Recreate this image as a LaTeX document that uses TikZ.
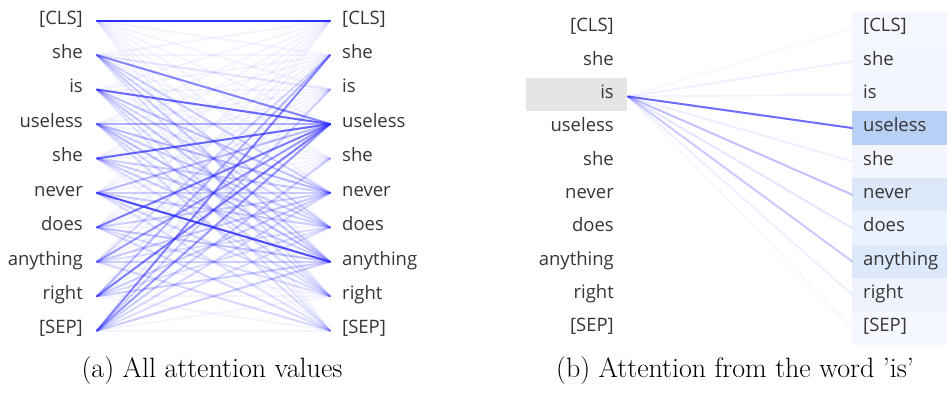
\documentclass[tikz,border=0pt]{standalone}
\usepackage{fontspec}
\newfontfamily\tokfont{Open Sans}
\definecolor{tok}{HTML}{363636}
\definecolor{attn}{RGB}{45,45,255}
\definecolor{isbox}{HTML}{E5E5E5}
\begin{document}
\begin{tikzpicture}[x=1pt,y=-1pt,
  tokL/.style={anchor=base east, inner sep=0pt, font=\tokfont\fontsize{18.5}{20}\selectfont, text=tok},
  tokR/.style={anchor=base west, inner sep=0pt, font=\tokfont\fontsize{18.5}{20}\selectfont, text=tok},
  att/.style={draw=attn, line width=2pt, line cap=round},
  capnode/.style={anchor=base, inner sep=0pt, font=\fontsize{28}{32}\selectfont}]
\useasboundingbox (0,0) rectangle (947,392);

% ---------------- panel (a) ----------------
\foreach \t [count=\i from 0] in {{[CLS]},she,is,useless,she,never,does,anything,right,{[SEP]}}{
  \pgfmathsetmacro\yb{24+34.44*\i}
  \pgfmathsetmacro\yl{20.7+34.44*\i}
  \node[tokL] (la\i) at (83,\yb) {\t};
  \node[tokR] (ra\i) at (342,\yb) {\t};
  \coordinate (as\i) at (97,\yl);
  \coordinate (at\i) at (330,\yl);
}
% faint background of all pairs
\foreach \i in {0,...,9}{
  \foreach \j in {0,...,9}{
    \draw[att, opacity=0.05] (as\i) -- (at\j);
  }
}
% stronger attention values
\foreach \i/\j/\w in {
  1/3/0.55, 1/5/0.18, 1/6/0.18, 1/7/0.2, 1/2/0.08, 1/8/0.1,
  2/3/0.7, 2/5/0.25, 2/7/0.22, 2/6/0.15, 2/8/0.12, 2/9/0.08,
  3/3/0.35, 3/5/0.3, 3/7/0.28, 3/6/0.2, 3/8/0.15, 3/9/0.12,
  4/3/0.7, 4/5/0.2, 4/6/0.2, 4/7/0.2, 4/8/0.12,
  5/7/0.85, 5/3/0.3, 5/5/0.2, 5/6/0.2, 5/8/0.15, 5/9/0.1,
  6/3/0.6, 6/7/0.25, 6/5/0.2, 6/9/0.15, 6/8/0.12,
  7/3/0.45, 7/7/0.2, 7/5/0.22, 7/1/0.15, 7/9/0.15, 7/6/0.12,
  8/3/0.6, 8/1/0.3, 8/7/0.2, 8/5/0.2, 8/6/0.12,
  9/1/0.55, 9/3/0.45, 9/2/0.18, 9/4/0.2, 9/7/0.2, 9/5/0.15, 9/6/0.12}{
  \draw[att, opacity=\w] (as\i) -- (at\j);
}
\draw[att, line width=2.4pt] (as0) -- (at0);

% ---------------- panel (b) ----------------
\fill[isbox] (526,78) rectangle (627,111.3);
\foreach \c [count=\i from 0] in {F5F8FE,F3F7FD,F3F7FD,B8D0F4,F3F7FD,DCE7FA,EBF1FD,DDE8FA,EEF3FD,F5F8FE}{
  \pgfmathsetmacro\yc{28+33.33*\i}
  \definecolor{rowc}{HTML}{\c}
  \fill[rowc] (852,\yc-16.67) rectangle (947,\yc+16.67);
}
\foreach \t [count=\i from 0] in {{[CLS]},she,is,useless,she,never,does,anything,right,{[SEP]}}{
  \pgfmathsetmacro\yb{31.7+33.33*\i}
  \pgfmathsetmacro\yc{28+33.33*\i}
  \node[tokL] (lb\i) at (614,\yb) {\t};
  \node[tokR] (rb\i) at (863,\yb) {\t};
  \coordinate (be\i) at (852,\yc);
}
\coordinate (bs) at (628,96.5);
\foreach \j/\w in {0/0.03,1/0.07,2/0.06,3/0.7,4/0.08,5/0.3,6/0.12,7/0.25,8/0.08,9/0.04}{
  \draw[att, opacity=\w] (bs) -- (be\j);
}

% ---------------- captions ----------------
\node[capnode] (capa) at (212,377) {(a) All attention values};
\node[capnode] (capb) at (735,377) {(b) Attention from the word 'is'};
\end{tikzpicture}
\end{document}
